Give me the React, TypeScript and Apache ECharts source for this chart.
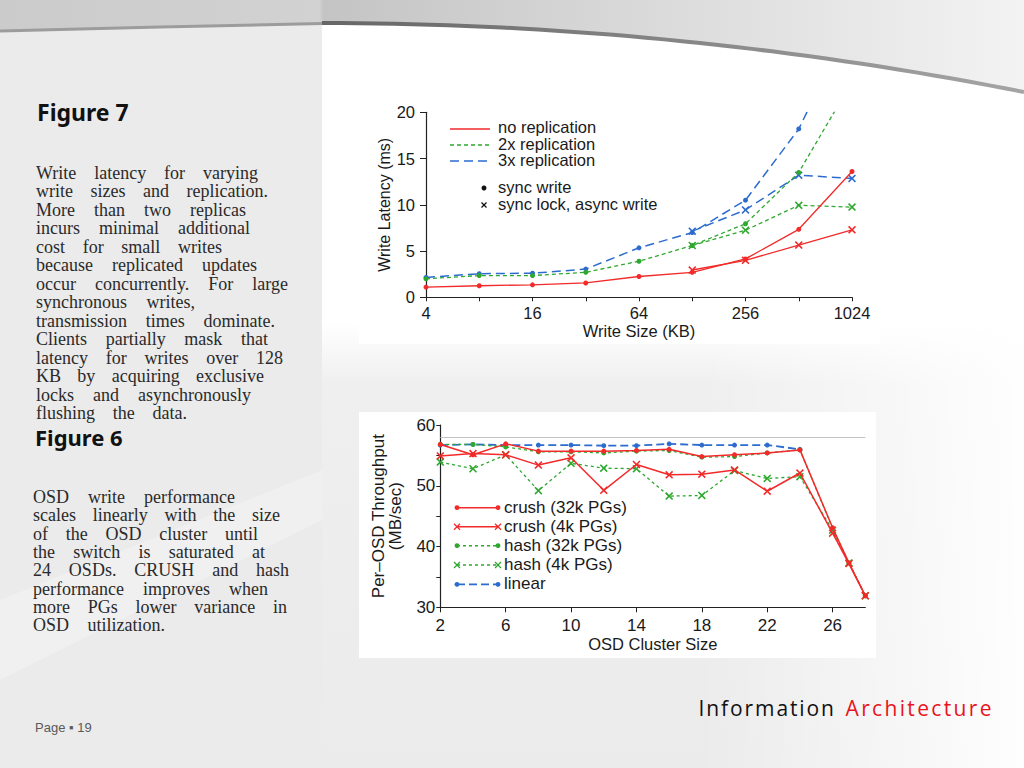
import React, { useEffect, useRef } from 'react';
import * as echarts from 'echarts';

// ---------- Figure 7 data (Write latency) ----------
const writeSizes = ['4', '8', '16', '32', '64', '128', '256', '512', '1024'];
const noRepSync = [1.1, 1.25, 1.35, 1.55, 2.25, 2.7, 4.15, 7.35, 13.6];
const noRepAsync = [null, null, null, null, null, 2.95, 4.0, 5.65, 7.3];
const twoRepSync = [2.0, 2.35, 2.35, 2.7, 3.9, 5.6, 7.95, 13.5, 23.3];
const twoRepAsync = [null, null, null, null, null, 5.6, 7.25, 9.95, 9.75];
const threeRepSync = [2.15, 2.55, 2.6, 3.05, 5.35, 7.0, 10.5, 18.2, 30];
const threeRepAsync = [null, null, null, null, null, 7.15, 9.45, 13.2, 12.85];

// ---------- Figure 6 data (Per-OSD throughput) ----------
const clusterSizes = [2, 4, 6, 8, 10, 12, 14, 16, 18, 20, 22, 24, 26, 27, 28];
const crush32k = [56.8, 55.1, 56.9, 55.7, 55.7, 55.7, 55.8, 56.0, 54.8, 55.1, 55.4, 55.9, 43.1, 37.3, 31.9];
const crush4k = [54.9, 55.3, 55.1, 53.4, 54.6, 49.25, 53.5, 51.8, 51.9, 52.6, 49.1, 52.1, 42.2, 37.2, 31.9];
const hash32k = [56.8, 56.8, 56.4, 55.6, 55.6, 55.4, 55.7, 55.8, 54.7, 54.8, 55.4, 55.9, 43.0, 37.3, 31.9];
const hash4k = [53.9, 52.8, 55.1, 49.2, 53.7, 52.9, 52.8, 48.3, 48.4, 52.5, 51.2, 51.5, 42.7, 37.3, 31.9];
const linearTput = [56.7, 56.8, 56.7, 56.7, 56.7, 56.6, 56.6, 56.9, 56.7, 56.7, 56.7, 56.0];
const switchLimit = 58;
const clusterLabelTicks = [2, 6, 10, 14, 18, 22, 26];

// ---------- Slide text ----------
const fig7Title = 'Figure 7';
const fig7Lines = [
  'Write latency for varying',
  'write sizes and replication.',
  'More than two replicas',
  'incurs minimal additional',
  'cost for small writes',
  'because replicated updates',
  'occur concurrently. For large',
  'synchronous writes,',
  'transmission times dominate.',
  'Clients partially mask that',
  'latency for writes over 128',
  'KB by acquiring exclusive',
  'locks and asynchronously',
  'flushing the data.',
];
const fig6Title = 'Figure 6';
const fig6Lines = [
  'OSD write performance',
  'scales linearly with the size',
  'of the OSD cluster until',
  'the switch is saturated at',
  '24 OSDs. CRUSH and hash',
  'performance improves when',
  'more PGs lower variance in',
  'OSD utilization.',
];
const pageLabel = 'Page \u25AA 19';
const brandA = 'Information';
const brandB = 'Architecture';

// layout (right edges of the justified lines)
const fig7Right = [258, 268, 246, 250, 222, 257, 288, 195, 275, 268, 283, 264, 251, 187];
const fig6Right = [235, 280, 258, 265, 289, 268, 287, 165];

const RED = '#f22a2a';
const GREEN = '#2ea82e';
const BLUE = '#2d6ccf';
const XMARK = 'path://M0,1.4L1.4,0L5,3.6L8.6,0L10,1.4L6.4,5L10,8.6L8.6,10L5,6.4L1.4,10L0,8.6L3.6,5Z';
const SANS = '"Liberation Sans", Arial, sans-serif';
const SERIF = '"Liberation Serif", "DejaVu Serif", serif';
const TITLE = '"Noto Sans", "Open Sans", sans-serif';

let measureCtx: CanvasRenderingContext2D | null = null;
function measure(text: string, font: string) {
  if (!measureCtx) measureCtx = document.createElement('canvas').getContext('2d');
  measureCtx!.font = font;
  return measureCtx!.measureText(text).width;
}

function txt(text: string, x: number, y: number, size: number, family: string, fill: string, weight = 'normal', lineHeight?: number) {
  const style: any = {
    text, fill, fontSize: size, fontFamily: family, fontWeight: weight,
    align: 'left', verticalAlign: 'middle', textAlign: 'left', textVerticalAlign: 'middle',
  };
  if (lineHeight) style.lineHeight = lineHeight;
  return { type: 'text', z: 20, x, y, style };
}

function justify(units: string[], x0: number, x1: number, y: number, size: number, family: string, fill: string, out: any[], minGap: number, lineHeight?: number) {
  const font = `${size}px ${family}`;
  const widths = units.map((u) => measure(u, font));
  const total = widths.reduce((a, b) => a + b, 0);
  const gap = units.length > 1 ? Math.max((x1 - x0 - total) / (units.length - 1), minGap) : 0;
  let x = x0;
  units.forEach((u, i) => {
    out.push(txt(u, x, y, size, family, fill, 'normal', lineHeight));
    x += widths[i] + gap;
  });
}

function xMarkG(cx: number, cy: number, color: string, r = 3) {
  return [
    { type: 'line', z: 20, shape: { x1: cx - r, y1: cy - r, x2: cx + r, y2: cy + r }, style: { stroke: color, lineWidth: 1.3 } },
    { type: 'line', z: 20, shape: { x1: cx - r, y1: cy + r, x2: cx + r, y2: cy - r }, style: { stroke: color, lineWidth: 1.3 } },
  ];
}
function dotG(cx: number, cy: number, color: string, r = 2.5) {
  return { type: 'circle', z: 20, shape: { cx, cy, r }, style: { fill: color } };
}

function buildGraphics() {
  const g: any[] = [];
  // backgrounds
  g.push({ type: 'rect', z: -100, shape: { x: 322, y: 0, width: 702, height: 768 },
    style: { fill: { type: 'linear', x: 0, y: 0, x2: 0, y2: 1, colorStops: [
      { offset: 0, color: '#ffffff' }, { offset: 0.42, color: '#ffffff' }, { offset: 0.5, color: '#efefef' }, { offset: 1, color: '#ebebeb' }] } } });
  g.push({ type: 'rect', z: -99, shape: { x: 700, y: 300, width: 324, height: 468 },
    style: { fill: { type: 'linear', x: 0, y: 0, x2: 1, y2: 0, colorStops: [
      { offset: 0, color: 'rgba(255,255,255,0)' }, { offset: 0.6, color: 'rgba(255,255,255,0.55)' }, { offset: 1, color: 'rgba(255,255,255,0.95)' }] } } });
  g.push({ type: 'rect', z: -100, shape: { x: 0, y: 0, width: 322, height: 768 }, style: { fill: '#ebebeb' } });
  g.push({ type: 'polygon', z: -99, shape: { points: [[0, 600], [322, 470], [322, 520], [0, 680]] },
    style: { fill: 'rgba(255,255,255,0.25)' } });
  // chart image backgrounds
  g.push({ type: 'rect', z: -98, shape: { x: 359, y: 100, width: 521, height: 244 }, style: { fill: '#ffffff' } });
  g.push({ type: 'rect', z: -98, shape: { x: 359, y: 412, width: 517, height: 246 }, style: { fill: '#ffffff' } });

  // top band and curve
  const curve: number[][] = [];
  for (let x = 322; x <= 1024; x += 18) curve.push([x, 23 + 1.4e-4 * (x - 322) * (x - 322)]);
  curve.push([1024, 23 + 1.4e-4 * 702 * 702]);
  const band = [[0, 0], [1024, 0], ...curve.slice().reverse(), [160, 27], [0, 31]];
  g.push({ type: 'polygon', z: -97, shape: { points: band },
    style: { fill: { type: 'linear', x: 0, y: 0, x2: 1, y2: 0, colorStops: [
      { offset: 0, color: '#cbcbcb' }, { offset: 0.312, color: '#d2d2d2' }, { offset: 0.316, color: '#c4c4c4' }, { offset: 1, color: '#f3f3f3' }] } } });
  g.push({ type: 'polyline', z: -96, shape: { points: [[0, 31], [160, 27], [322, 23.5]] }, style: { stroke: '#9c9c9c', lineWidth: 3, fill: null } });
  g.push({ type: 'polyline', z: -96, shape: { points: curve },
    style: { fill: null, lineWidth: 4, stroke: { type: 'linear', x: 0, y: 0, x2: 1, y2: 0, colorStops: [
      { offset: 0, color: '#666666' }, { offset: 1, color: '#a5a5a5' }] } } });

  // top chart legend
  g.push({ type: 'line', z: 20, shape: { x1: 450, y1: 129, x2: 490, y2: 129 }, style: { stroke: RED, lineWidth: 1.3 } });
  g.push({ type: 'line', z: 20, shape: { x1: 450, y1: 145, x2: 490, y2: 145 }, style: { stroke: GREEN, lineWidth: 1.3, lineDash: [4, 3] } });
  g.push({ type: 'line', z: 20, shape: { x1: 450, y1: 161, x2: 490, y2: 161 }, style: { stroke: BLUE, lineWidth: 1.5, lineDash: [9, 5] } });
  g.push(txt('no replication', 498, 127, 16.5, SANS, '#1a1a1a'));
  g.push(txt('2x replication', 498, 143.5, 16.5, SANS, '#1a1a1a'));
  g.push(txt('3x replication', 498, 160, 16.5, SANS, '#1a1a1a'));
  g.push(dotG(484, 188, '#111', 2.5));
  g.push(txt('sync write', 498, 187, 16.5, SANS, '#1a1a1a'));
  g.push(...xMarkG(484, 205, '#111', 2.5));
  g.push(txt('sync lock, async write', 498, 203.5, 16.5, SANS, '#1a1a1a'));

  // bottom chart legend
  const rows = [
    { y: 507.7, label: 'crush (32k PGs)', color: RED, dash: null, mark: 'dot' },
    { y: 526.7, label: 'crush (4k PGs)', color: RED, dash: null, mark: 'x' },
    { y: 545.7, label: 'hash (32k PGs)', color: GREEN, dash: [3, 3], mark: 'dot' },
    { y: 565, label: 'hash (4k PGs)', color: GREEN, dash: [3, 3], mark: 'x' },
    { y: 584.3, label: 'linear', color: BLUE, dash: [8, 4], mark: 'dot' },
  ];
  rows.forEach((r) => {
    g.push({ type: 'line', z: 20, shape: { x1: 457, y1: r.y, x2: 498, y2: r.y },
      style: { stroke: r.color, lineWidth: r.color === BLUE ? 1.8 : 1.5, lineDash: r.dash || undefined } });
    if (r.mark === 'dot') { g.push(dotG(457, r.y, r.color, 2.4)); g.push(dotG(498, r.y, r.color, 2.4)); }
    else { g.push(...xMarkG(457, r.y, r.color, 3)); g.push(...xMarkG(498, r.y, r.color, 3)); }
    g.push(txt(r.label, 504, r.y - 0.5, 17, SANS, '#1a1a1a'));
  });

  // slide texts
  g.push(txt(fig7Title, 37, 112, 23, TITLE, '#111', 'bold', 24));
  fig7Lines.forEach((l, i) => justify(l.split(' '), 36, fig7Right[i], 173 + i * 18.46, 18, SERIF, '#2a2a2a', g, 4, 16));
  g.push(txt(fig6Title, 35, 437, 22, TITLE, '#111', 'bold', 20));
  fig6Lines.forEach((l, i) => justify(l.split(' '), 33, fig6Right[i], 497 + i * 18.3, 18, SERIF, '#2a2a2a', g, 4, 16));
  g.push(txt(pageLabel, 35, 727, 13, SANS, '#5a5a5a'));
  justify(brandA.split(''), 698.5, 834, 708, 21, '"Open Sans", sans-serif', '#111', g, 0);
  justify(brandB.split(''), 845.5, 991.5, 708, 21, '"Open Sans", sans-serif', '#e8141b', g, 0);
  return g;
}

export default function App() {
  const ref = useRef<HTMLDivElement>(null);
  useEffect(() => {
    if (!ref.current) return;
    const chart = echarts.init(ref.current, undefined, { renderer: 'svg' });
    const axisLine = { lineStyle: { color: '#222', width: 1.2 } };
    const labelStyle = { color: '#1a1a1a', fontFamily: SANS };
    const pair = (arr: number[]) => arr.map((v, i) => [clusterSizes[i], v]);
    const option: any = {
      animation: false,
      backgroundColor: '#ffffff',
      grid: [
        { left: 426, top: 112.3, width: 426, height: 185, containLabel: false },
        { left: 440.3, top: 425, width: 425, height: 182.3, containLabel: false },
      ],
      xAxis: [
        {
          gridIndex: 0, type: 'category', data: writeSizes, boundaryGap: false,
          name: 'Write Size (KB)', nameLocation: 'middle', nameGap: 25,
          nameTextStyle: { ...labelStyle, fontSize: 16.5 },
          axisLine, axisTick: { show: true, interval: 0, length: 4, lineStyle: { color: '#222' } },
          axisLabel: { ...labelStyle, fontSize: 16.5, interval: 1, margin: 7 },
          splitLine: { show: false },
        },
        {
          gridIndex: 1, type: 'value', min: 2, max: 28,
          name: 'OSD Cluster Size', nameLocation: 'middle', nameGap: 27,
          nameTextStyle: { ...labelStyle, fontSize: 16.5 },
          axisLine, axisTick: { show: true, length: 5, customValues: clusterLabelTicks, lineStyle: { color: '#222' } },
          axisLabel: { ...labelStyle, fontSize: 17, margin: 10, customValues: clusterLabelTicks },
          splitLine: { show: false },
        },
      ],
      yAxis: [
        {
          gridIndex: 0, type: 'value', min: 0, max: 20, interval: 5,
          name: 'Write Latency (ms)', nameLocation: 'middle', nameGap: 28,
          nameTextStyle: { ...labelStyle, fontSize: 16 },
          axisLine: { show: true, ...axisLine }, axisTick: { show: true, length: 6, lineStyle: { color: '#222' } },
          axisLabel: { ...labelStyle, fontSize: 16.5, margin: 11 },
          splitLine: { show: false },
        },
        {
          gridIndex: 1, type: 'value', min: 30, max: 60, interval: 5,
          name: 'Per\u2013OSD Throughput\n(MB/sec)', nameLocation: 'middle', nameGap: 36,
          nameTextStyle: { ...labelStyle, fontSize: 17, lineHeight: 17 },
          axisLine: { show: true, ...axisLine }, axisTick: { show: true, length: 4, lineStyle: { color: '#222' } },
          axisLabel: { ...labelStyle, fontSize: 17, margin: 5, formatter: (v: number) => (v % 10 === 0 ? String(v) : '') },
          splitLine: { show: false },
        },
      ],
      series: [
        // Figure 7
        { name: '3x sync', type: 'line', xAxisIndex: 0, yAxisIndex: 0, data: threeRepSync, symbol: 'circle', symbolSize: 5,
          itemStyle: { color: BLUE }, lineStyle: { color: BLUE, width: 1.5, type: [9, 5] }, z: 3 },
        { name: '3x async', type: 'line', xAxisIndex: 0, yAxisIndex: 0, data: threeRepAsync, symbol: XMARK, symbolSize: 8,
          itemStyle: { color: BLUE }, lineStyle: { color: BLUE, width: 1.5, type: [9, 5] }, z: 3 },
        { name: '2x sync', type: 'line', xAxisIndex: 0, yAxisIndex: 0, data: twoRepSync, symbol: 'circle', symbolSize: 5,
          itemStyle: { color: GREEN }, lineStyle: { color: GREEN, width: 1.3, type: [4, 3] }, z: 4 },
        { name: '2x async', type: 'line', xAxisIndex: 0, yAxisIndex: 0, data: twoRepAsync, symbol: XMARK, symbolSize: 8,
          itemStyle: { color: GREEN }, lineStyle: { color: GREEN, width: 1.3, type: [4, 3] }, z: 4 },
        { name: 'no rep sync', type: 'line', xAxisIndex: 0, yAxisIndex: 0, data: noRepSync, symbol: 'circle', symbolSize: 5,
          itemStyle: { color: RED }, lineStyle: { color: RED, width: 1.3 }, z: 5 },
        { name: 'no rep async', type: 'line', xAxisIndex: 0, yAxisIndex: 0, data: noRepAsync, symbol: XMARK, symbolSize: 8,
          itemStyle: { color: RED }, lineStyle: { color: RED, width: 1.3 }, z: 5 },
        // Figure 6
        { name: 'linear', type: 'line', xAxisIndex: 1, yAxisIndex: 1, data: pair(linearTput), symbol: 'circle', symbolSize: 5,
          itemStyle: { color: BLUE }, lineStyle: { color: BLUE, width: 1.8, type: [8, 4] }, z: 3,
          markLine: { silent: true, symbol: 'none', label: { show: false },
            lineStyle: { color: '#c4c4c4', width: 1.2, type: 'solid' }, data: [{ yAxis: switchLimit }] } },
        { name: 'hash (32k PGs)', type: 'line', xAxisIndex: 1, yAxisIndex: 1, data: pair(hash32k), symbol: 'circle', symbolSize: 5,
          itemStyle: { color: GREEN }, lineStyle: { color: GREEN, width: 1.3, type: [3, 3] }, z: 4 },
        { name: 'hash (4k PGs)', type: 'line', xAxisIndex: 1, yAxisIndex: 1, data: pair(hash4k), symbol: XMARK, symbolSize: 8,
          itemStyle: { color: GREEN }, lineStyle: { color: GREEN, width: 1.3, type: [3, 3] }, z: 4 },
        { name: 'crush (32k PGs)', type: 'line', xAxisIndex: 1, yAxisIndex: 1, data: pair(crush32k), symbol: 'circle', symbolSize: 5,
          itemStyle: { color: RED }, lineStyle: { color: RED, width: 1.5 }, z: 5 },
        { name: 'crush (4k PGs)', type: 'line', xAxisIndex: 1, yAxisIndex: 1, data: pair(crush4k), symbol: XMARK, symbolSize: 8,
          itemStyle: { color: RED }, lineStyle: { color: RED, width: 1.5 }, z: 5 },
      ],
      graphic: { elements: buildGraphics() },
    };
    chart.setOption(option);
    return () => chart.dispose();
  }, []);
  return <div ref={ref} style={{ position: 'fixed', left: 0, top: 0, width: 1024, height: 768 }} />;
}
